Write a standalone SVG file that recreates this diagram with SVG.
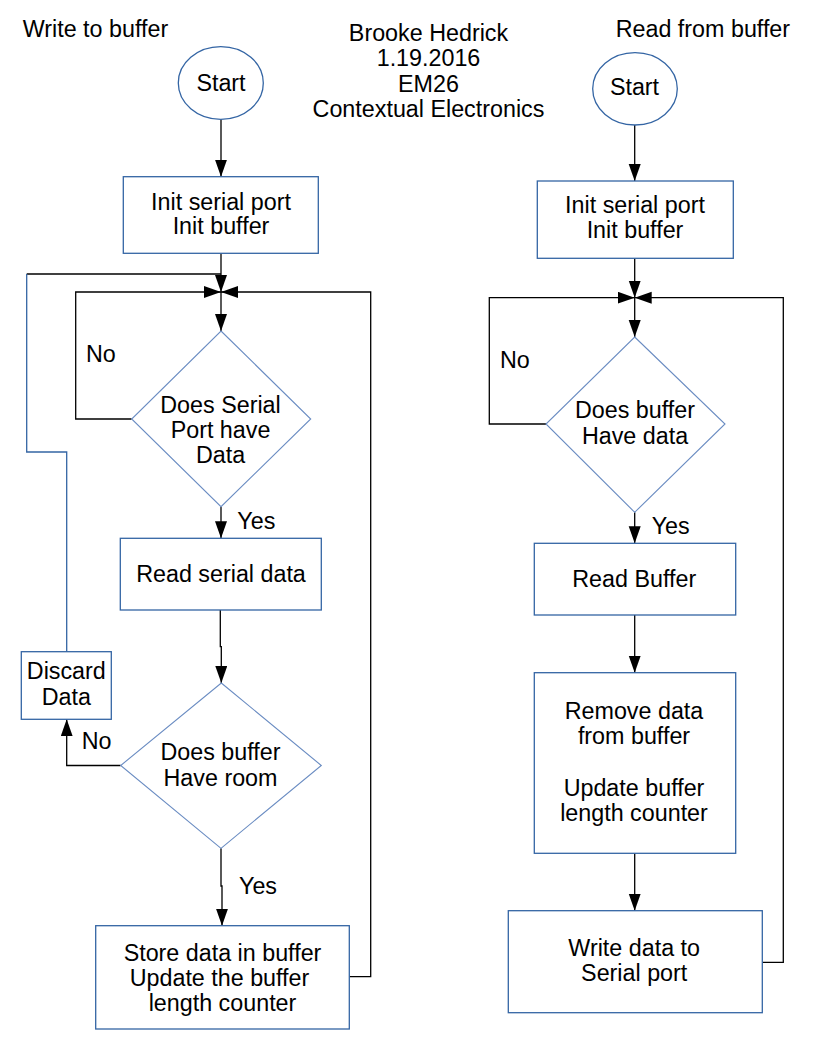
<svg xmlns="http://www.w3.org/2000/svg" width="816" height="1056" viewBox="0 0 816 1056">
<defs>
<marker id="ah" markerUnits="userSpaceOnUse" markerWidth="18" markerHeight="13" refX="17" refY="6" orient="auto">
<path d="M0,0 L17,6 L0,12 z" fill="#000"/>
</marker>
<style>
text{font-family:"Liberation Sans",Arial,sans-serif;font-size:23.3px;fill:#000}
.c{text-anchor:middle}
.box{fill:#fff;stroke:#3465a4;stroke-width:1.3}
.dia{fill:#fff;stroke:#6a8cc2;stroke-width:1.1}
.ln{fill:none;stroke:#000;stroke-width:1.3}
.bl{fill:none;stroke:#3465a4;stroke-width:1.3}
.arr{marker-end:url(#ah)}
</style>
</defs>
<rect width="816" height="1056" fill="#fff"/>

<g id="titles">
<text x="22.7" y="36.7">Write to buffer</text>
<text x="615.7" y="36.7">Read from buffer</text>
<text class="c" x="428.5" y="40.7">Brooke Hedrick</text>
<text class="c" x="428.5" y="65.7">1.19.2016</text>
<text class="c" x="428.5" y="91.7">EM26</text>
<text class="c" x="428.5" y="116.7">Contextual Electronics</text>
</g>

<g id="connectors">
<!-- left column -->
<path class="ln arr" d="M221,119.3 V176.7"/>
<path class="ln arr" d="M221,253.3 V292"/>
<path class="ln" d="M26.7,274 H221"/>
<path class="bl" d="M66.7,651.7 V452 H26.7 V274"/>
<path class="ln arr" d="M221,292 V331"/>
<path class="ln arr" d="M131.7,419 H75.7 V292 H221"/>
<path class="ln arr" d="M221,506.7 V538.3"/>
<path class="ln arr" d="M220.3,610 V646.7 H221.3 V683"/>
<path class="ln arr" d="M120.7,765.5 H66.7 V719.3"/>
<path class="ln arr" d="M221,848.3 V886 H222 V925.7"/>
<path class="ln arr" d="M349.3,976.7 H370.7 V292 H221"/>
<!-- right column -->
<path class="ln arr" d="M634.7,125 V181"/>
<path class="ln arr" d="M634.7,258.3 V297.7"/>
<path class="ln arr" d="M634.7,297.7 V337"/>
<path class="ln arr" d="M546,424 H489.3 V297.7 H634.7"/>
<path class="ln arr" d="M634.7,512.3 V543.3"/>
<path class="ln arr" d="M634.7,615 V672.7"/>
<path class="ln arr" d="M634.7,853.3 V910.7"/>
<path class="ln arr" d="M762.3,962.3 H783.3 V297.7 H634.7"/>
</g>

<g id="labels">
<text x="86" y="362.3">No</text>
<text x="237.3" y="529.3">Yes</text>
<text x="81.7" y="749">No</text>
<text x="239" y="894">Yes</text>
<text x="500" y="368.3">No</text>
<text x="651.7" y="534">Yes</text>
</g>

<g id="start-write">
<ellipse class="box" cx="220.8" cy="83" rx="42.5" ry="36.3"/>
<text class="c" x="221" y="91">Start</text>
</g>
<g id="init-write">
<rect class="box" x="123.3" y="176.7" width="195" height="76.6"/>
<text class="c" x="221" y="210">Init serial port</text>
<text class="c" x="221" y="234.3">Init buffer</text>
</g>
<g id="dec-serial">
<polygon class="dia" points="221,331 310.7,419 221,506.7 131.7,419"/>
<text class="c" x="220.5" y="413.3">Does Serial</text>
<text class="c" x="220.5" y="438.3">Port have</text>
<text class="c" x="220.5" y="463.3">Data</text>
</g>
<g id="read-serial">
<rect class="box" x="120.3" y="538.3" width="201" height="71.7"/>
<text class="c" x="221" y="581.7">Read serial data</text>
</g>
<g id="dec-room">
<polygon class="dia" points="221.3,683 321.3,765.5 221,848.3 120.7,765.5"/>
<text class="c" x="220.5" y="760">Does buffer</text>
<text class="c" x="220.5" y="785.7">Have room</text>
</g>
<g id="discard">
<rect class="box" x="21.3" y="651.7" width="90" height="67.6"/>
<text class="c" x="66.3" y="679.3">Discard</text>
<text class="c" x="66.3" y="705">Data</text>
</g>
<g id="store">
<rect class="box" x="95.7" y="925.7" width="253.6" height="103.3"/>
<text class="c" x="222.5" y="960.7">Store data in buffer</text>
<text class="c" x="219.5" y="985.7">Update the buffer</text>
<text class="c" x="222.5" y="1010.7">length counter</text>
</g>

<g id="start-read">
<ellipse class="box" cx="635" cy="88.8" rx="42.3" ry="36.2"/>
<text class="c" x="634.5" y="95">Start</text>
</g>
<g id="init-read">
<rect class="box" x="537.3" y="181" width="196" height="77.3"/>
<text class="c" x="635" y="213.3">Init serial port</text>
<text class="c" x="635" y="238.3">Init buffer</text>
</g>
<g id="dec-data">
<polygon class="dia" points="634.7,337 725,424 634.7,512.3 546,424"/>
<text class="c" x="635" y="418.3">Does buffer</text>
<text class="c" x="635" y="444.3">Have data</text>
</g>
<g id="read-buffer">
<rect class="box" x="534.3" y="543.3" width="201.4" height="71.7"/>
<text class="c" x="634.2" y="586.7">Read Buffer</text>
</g>
<g id="remove">
<rect class="box" x="534.3" y="672.7" width="201.4" height="180.6"/>
<text class="c" x="634" y="719">Remove data</text>
<text class="c" x="634" y="744.3">from buffer</text>
<text class="c" x="634" y="796">Update buffer</text>
<text class="c" x="634" y="821.3">length counter</text>
</g>
<g id="write-serial">
<rect class="box" x="508.3" y="910.7" width="254" height="102"/>
<text class="c" x="634.2" y="955.7">Write data to</text>
<text class="c" x="634.2" y="981">Serial port</text>
</g>
</svg>
